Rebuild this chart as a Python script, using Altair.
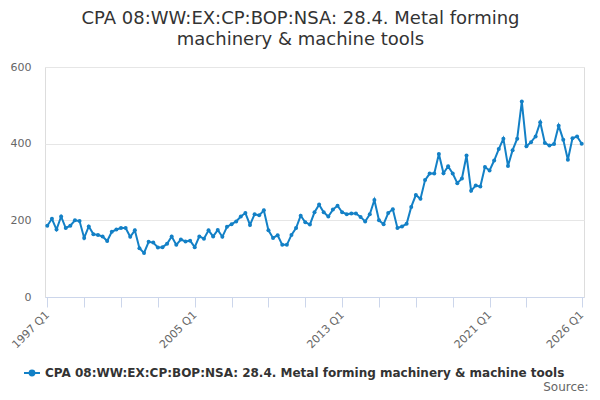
import altair as alt
import pandas as pd

# ---- data (quarterly, 1997 Q1 .. 2026 Q1) ----
start_year = 1997
values = [
    186, 204, 176, 210, 180, 186, 200, 198, 154, 184,
    164, 162, 158, 146, 170, 176, 180, 180, 157, 174,
    127, 115, 144, 142, 129, 130, 139, 158, 136, 150,
    145, 147, 130, 158, 152, 174, 158, 175, 157, 183,
    190, 197, 210, 219, 188, 216, 213, 226, 174, 154,
    161, 136, 136, 162, 180, 212, 195, 189, 221, 241,
    221, 210, 228, 238, 221, 216, 218, 218, 209, 197,
    216, 253, 200, 190, 219, 229, 180, 184, 191, 235,
    266, 256, 305, 322, 322, 373, 323, 341, 322, 297,
    309, 369, 277, 291, 288, 339, 330, 356, 386, 413,
    342, 383, 413, 510, 393, 404, 419, 456, 402, 395,
    399, 447, 410, 358, 414, 419, 400,
]
label_quarters = ["1997 Q1", "2005 Q1", "2013 Q1", "2021 Q1", "2026 Q1"]
y_ticks = [0, 200, 400, 600]
series_name = "CPA 08:WW:EX:CP:BOP:NSA: 28.4. Metal forming machinery & machine tools"
title_lines = ["CPA 08:WW:EX:CP:BOP:NSA: 28.4. Metal forming", "machinery & machine tools"]
source_text = "Source:"

quarters = [f"{start_year + k // 4} Q{k % 4 + 1}" for k in range(len(values))]
df = pd.DataFrame({
    "i": list(range(len(values))),
    "quarter": quarters,
    "value": values,
    "series": [series_name] * len(values),
})

last = len(values) - 1
tick_vals = list(range(0, 105, 8)) + [last]
label_idx = [quarters.index(q) for q in label_quarters]
label_expr = "".join(f"datum.value=={k}?'{q}':" for k, q in zip(label_idx, label_quarters)) + "''"

BLUE = "#1380c6"
FONT = "DejaVu Sans"

legend_symbol = "M-1,0L1,0M-0.3,0A0.3,0.3,0,1,1,0.3,0A0.3,0.3,0,1,1,-0.3,0Z"

chart = alt.Chart(df).mark_line(
    strokeWidth=2,
    point=alt.OverlayMarkDef(filled=True, size=16, color=BLUE),
).encode(
    x=alt.X(
        "i:Q",
        scale=alt.Scale(domain=[-0.5, last + 0.5], nice=False, zero=False),
        axis=alt.Axis(
            values=tick_vals,
            labelExpr=label_expr,
            grid=False,
            domainColor="#ccd6eb",
            tickColor="#ccd6eb",
            tickSize=10,
            labelAngle=-45,
            labelAlign="right",
            labelBaseline="middle",
            labelPadding=6,
            labelOverlap=False,
            labelFlush=False,
            labelBound=False,
            labelFont=FONT,
            labelFontSize=11,
            labelColor="#666666",
            title=source_text,
            titleFont=FONT,
            titleFontSize=12,
            titleFontWeight="normal",
            titleColor="#666666",
            titleAlign="right",
            titleAnchor="end",
            titleBaseline="alphabetic",
            titleX=543,
            titleY=93,
        ),
    ),
    y=alt.Y(
        "value:Q",
        scale=alt.Scale(domain=[0, 600], nice=False),
        axis=alt.Axis(
            values=y_ticks,
            title=None,
            domain=False,
            ticks=False,
            gridColor="#e6e6e6",
            labelPadding=14,
            labelFont=FONT,
            labelFontSize=11,
            labelColor="#666666",
        ),
    ),
    color=alt.Color(
        "series:N",
        scale=alt.Scale(domain=[series_name], range=[BLUE]),
        legend=alt.Legend(
            title=None,
            orient="none",
            legendX=-22,
            legendY=297,
            symbolType=legend_symbol,
            symbolSize=256,
            symbolStrokeWidth=2,
            symbolFillColor=BLUE,
            symbolStrokeColor=BLUE,
            labelFont=FONT,
            labelFontSize=12,
            labelFontWeight="bold",
            labelColor="#333333",
            labelLimit=1000,
            labelOffset=4,
        ),
    ),
).properties(
    width=539,
    height=230,
    autosize=alt.AutoSizeParams(type="none"),
    padding={"left": 37, "top": 59, "right": 8, "bottom": 95},
    title=alt.TitleParams(
        text=title_lines,
        font=FONT,
        fontSize=18,
        fontWeight="normal",
        color="#333333",
        anchor="middle",
        dx=-14,
        offset=12,
        lineHeight=21,
    ),
).configure_view(stroke=None).configure(background="white")

chart.save("out.html", embed_options={"renderer": "svg", "actions": False})
